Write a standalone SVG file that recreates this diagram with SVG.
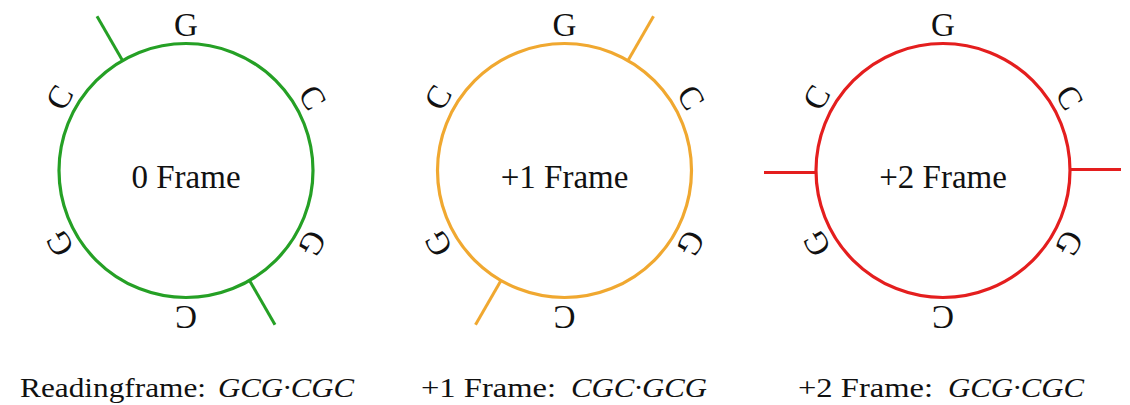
<svg xmlns="http://www.w3.org/2000/svg" width="1130" height="405" viewBox="0 0 1130 405">
<style>
.ring{fill:none;stroke-width:3.2}
.lbl{font-size:33px;fill:#111;text-anchor:middle;dominant-baseline:central}
.mid{font-size:33px;fill:#111;text-anchor:middle}
.cap{font-size:28px;fill:#111}
.it{font-style:italic}
</style>
<rect width="1130" height="405" fill="#fff"/>
<g font-family="Liberation Serif, Times New Roman, serif">
<g id="frame0" transform="translate(186,170.5)">
<circle class="ring" r="127" stroke="#25a025"/>
<text class="mid" x="0" y="17">0 Frame</text>
<text class="lbl" transform="rotate(0) translate(0,-146)">G</text>
<text class="lbl" transform="rotate(60) translate(0,-146)">C</text>
<text class="lbl" transform="rotate(120) translate(0,-146)">G</text>
<text class="lbl" transform="rotate(180) translate(0,-146)">C</text>
<text class="lbl" transform="rotate(240) translate(0,-146)">G</text>
<text class="lbl" transform="rotate(300) translate(0,-146)">C</text>
</g>
<g id="frame1" transform="translate(564.5,170.5)">
<circle class="ring" r="127" stroke="#f0a830"/>
<text class="mid" x="0" y="17">+1 Frame</text>
<text class="lbl" transform="rotate(0) translate(0,-146)">G</text>
<text class="lbl" transform="rotate(60) translate(0,-146)">C</text>
<text class="lbl" transform="rotate(120) translate(0,-146)">G</text>
<text class="lbl" transform="rotate(180) translate(0,-146)">C</text>
<text class="lbl" transform="rotate(240) translate(0,-146)">G</text>
<text class="lbl" transform="rotate(300) translate(0,-146)">C</text>
</g>
<g id="frame2" transform="translate(943,170.5)">
<circle class="ring" r="127" stroke="#e41e1e"/>
<text class="mid" x="0" y="17">+2 Frame</text>
<text class="lbl" transform="rotate(0) translate(0,-146)">G</text>
<text class="lbl" transform="rotate(60) translate(0,-146)">C</text>
<text class="lbl" transform="rotate(120) translate(0,-146)">G</text>
<text class="lbl" transform="rotate(180) translate(0,-146)">C</text>
<text class="lbl" transform="rotate(240) translate(0,-146)">G</text>
<text class="lbl" transform="rotate(300) translate(0,-146)">C</text>
</g>
<g id="captions">
<text class="cap" x="20" y="397" textLength="186" lengthAdjust="spacingAndGlyphs">Readingframe:</text>
<text class="cap it" x="218" y="397" textLength="136" lengthAdjust="spacingAndGlyphs">GCG·CGC</text>
<text class="cap" x="421" y="397" textLength="135" lengthAdjust="spacingAndGlyphs">+1 Frame:</text>
<text class="cap it" x="571" y="397" textLength="136" lengthAdjust="spacingAndGlyphs">CGC·GCG</text>
<text class="cap" x="798" y="397" textLength="135" lengthAdjust="spacingAndGlyphs">+2 Frame:</text>
<text class="cap it" x="948" y="397" textLength="136" lengthAdjust="spacingAndGlyphs">GCG·CGC</text>
</g>
</g>
<g id="connectors" stroke-width="3" fill="none">
<g transform="translate(186,170.5)" stroke="#25a025">
<line x1="0" y1="-127" x2="0" y2="-178" transform="rotate(-30)"/>
<line x1="0" y1="-127" x2="0" y2="-178" transform="rotate(150)"/>
</g>
<g transform="translate(564.5,170.5)" stroke="#f0a830">
<line x1="0" y1="-127" x2="0" y2="-178" transform="rotate(30)"/>
<line x1="0" y1="-127" x2="0" y2="-178" transform="rotate(210)"/>
</g>
<g stroke="#e41e1e">
<line x1="764" y1="172.5" x2="816" y2="172.5"/>
<line x1="1070" y1="169.5" x2="1121" y2="169.5"/>
</g>
</g>
</svg>
